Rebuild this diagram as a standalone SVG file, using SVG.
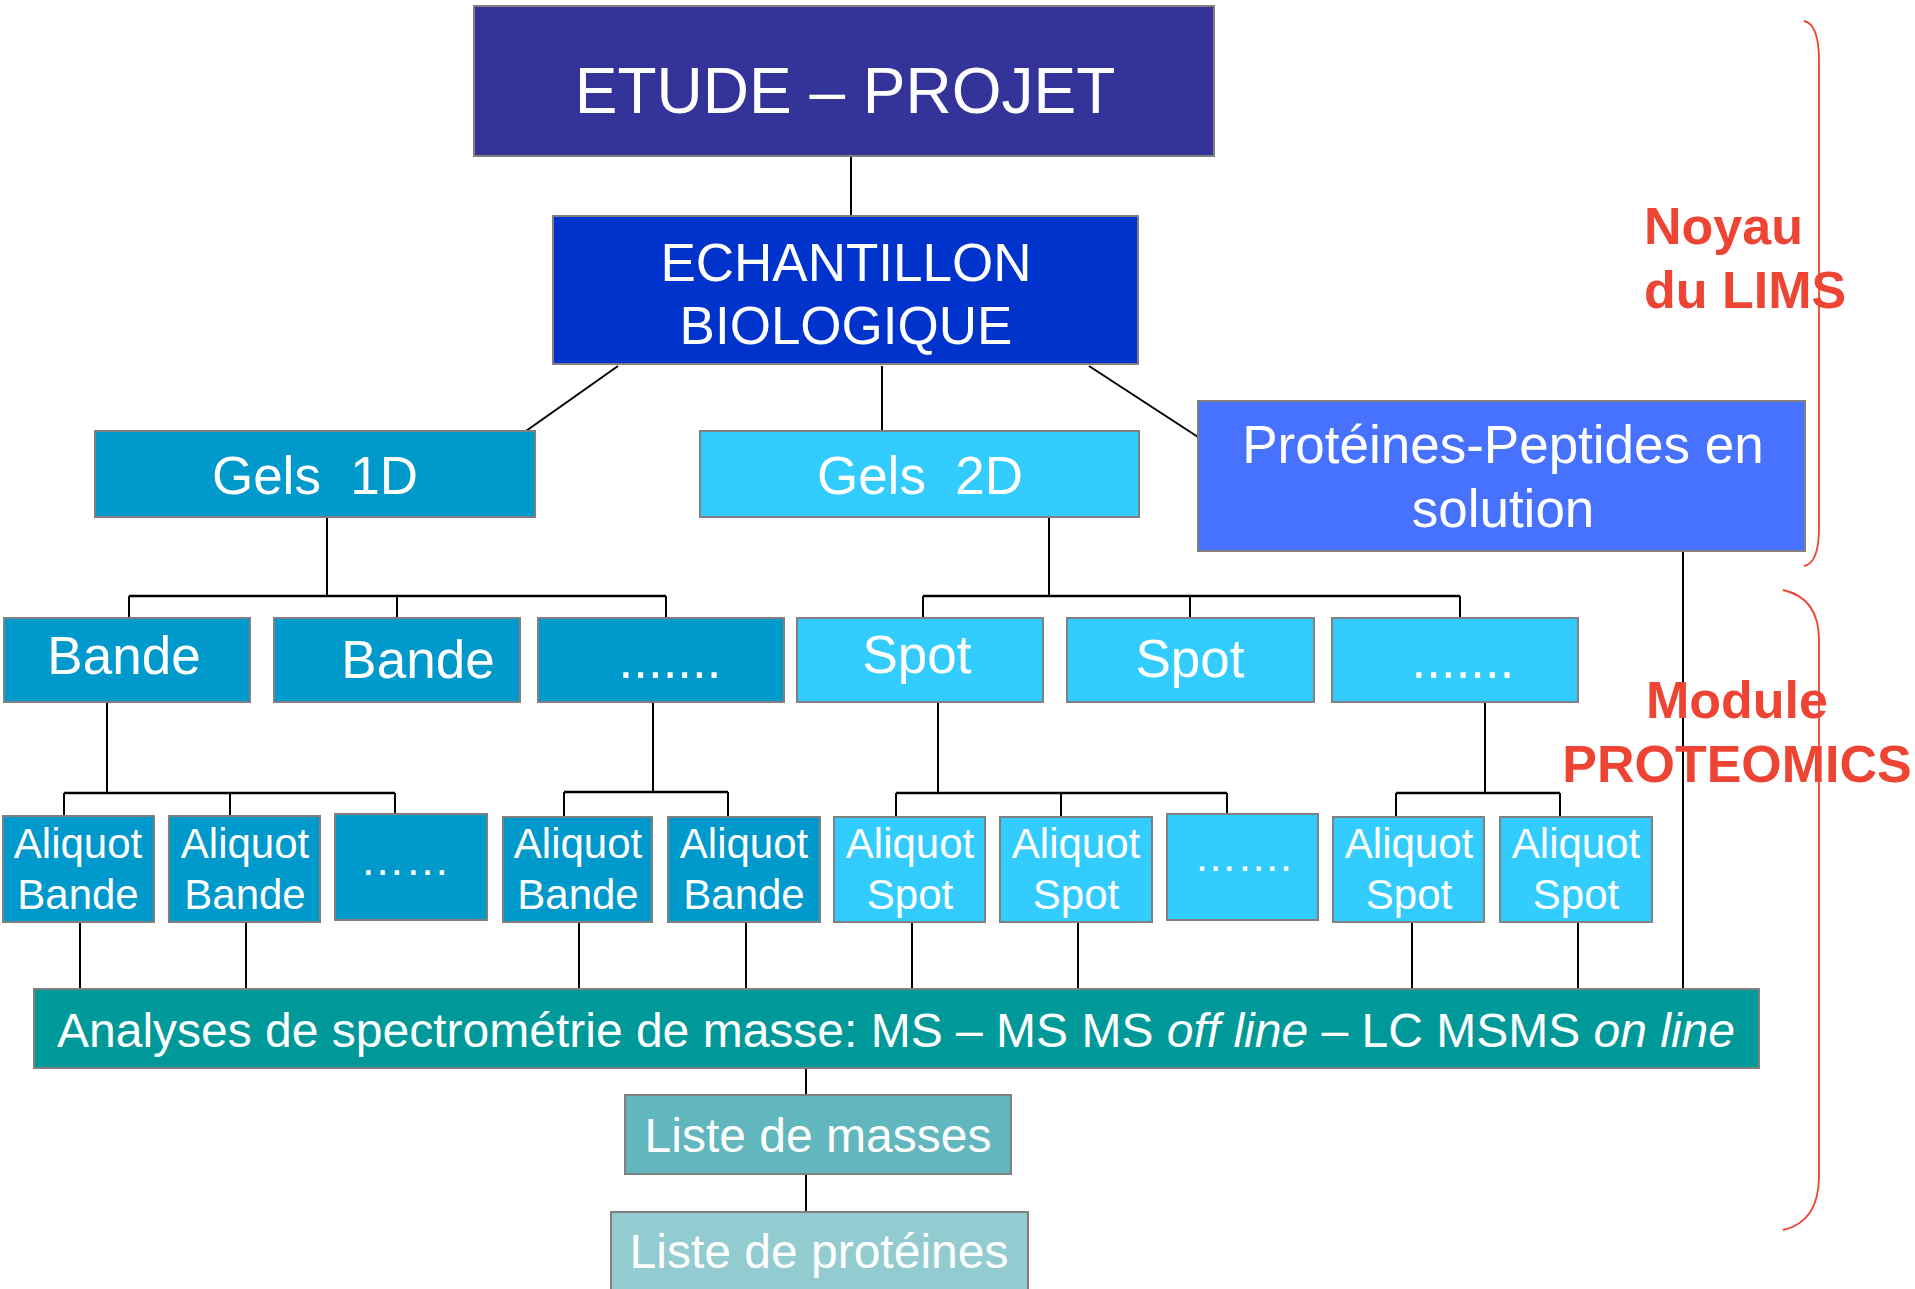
<svg xmlns="http://www.w3.org/2000/svg" width="1915" height="1289" viewBox="0 0 1915 1289">
<style>
.b{stroke:#808080;stroke-width:2}
.t{font-family:"Liberation Sans",Arial,sans-serif;fill:#fff;text-anchor:middle}
.c{stroke:#000;stroke-width:2;fill:none}
.bus{stroke:#000;stroke-width:2.5;fill:none}
.r{font-family:"Liberation Sans",Arial,sans-serif;font-weight:bold;fill:#EE4433;font-size:52px}
.g1{fill:#0099CC}
.g2{fill:#33CCFF}
</style>
<rect width="1915" height="1289" fill="#fff"/>
<g id="connectors">
<path class="c" d="M851 156V216"/>
<path class="c" d="M618 366L526 431"/>
<path class="c" d="M882 366V431"/>
<path class="c" d="M1089 366L1198 437"/>
<path class="c" d="M327 518V596M129 596V618M397 596V618M666 596V618"/>
<path class="bus" d="M129 596H666"/>
<path class="c" d="M1049 518V596M923 596V618M1190 596V618M1460 596V618"/>
<path class="bus" d="M923 596H1460"/>
<path class="c" d="M107 702V793M64 793V816M230 793V816M395 793V814"/>
<path class="bus" d="M64 793H395"/>
<path class="c" d="M653 702V792M564 792V817M728 792V817"/>
<path class="bus" d="M564 792H728"/>
<path class="c" d="M938 702V793M896 793V817M1061 793V817M1227 793V814"/>
<path class="bus" d="M896 793H1227"/>
<path class="c" d="M1485 702V793M1396 793V817M1560 793V817"/>
<path class="bus" d="M1396 793H1560"/>
<path class="c" d="M80 922V989M246 922V989M579 922V989M746 922V989M912 922V989M1078 922V989M1412 922V989M1578 922V989"/>
<path class="c" d="M1683 551V989"/>
<path class="c" d="M806 1068V1095M806 1174V1212"/>
</g>
<g id="etude"><rect class="b" x="474" y="6" width="740" height="150" fill="#333399"/><text class="t" x="845" y="113" font-size="64">ETUDE – PROJET</text></g>
<g id="echantillon"><rect class="b" x="553" y="216" width="585" height="148" fill="#0033CC"/><text class="t" x="846" y="281" font-size="53">ECHANTILLON</text><text class="t" x="846" y="344" font-size="53">BIOLOGIQUE</text></g>
<g id="gels1d"><rect class="b g1" x="95" y="431" width="440" height="86"/><text class="t" x="315" y="494" font-size="53" xml:space="preserve">Gels  1D</text></g>
<g id="gels2d"><rect class="b g2" x="700" y="431" width="439" height="86"/><text class="t" x="920" y="494" font-size="53" xml:space="preserve">Gels  2D</text></g>
<g id="proteines"><rect class="b" x="1198" y="401" width="607" height="150" fill="#4772FF"/><text class="t" x="1503" y="463" font-size="53">Protéines-Peptides en</text><text class="t" x="1503" y="527" font-size="53">solution</text></g>
<g id="bande1"><rect class="b g1" x="4" y="618" width="246" height="84"/><text class="t" x="124" y="674" font-size="53">Bande</text></g>
<g id="bande2"><rect class="b g1" x="274" y="618" width="246" height="84"/><text class="t" x="418" y="678" font-size="53">Bande</text></g>
<g id="bande3"><rect class="b g1" x="538" y="618" width="246" height="84"/><text class="t" x="670" y="678" font-size="53">.......</text></g>
<g id="spot1"><rect class="b g2" x="797" y="618" width="246" height="84"/><text class="t" x="917" y="673" font-size="53">Spot</text></g>
<g id="spot2"><rect class="b g2" x="1067" y="618" width="247" height="84"/><text class="t" x="1190" y="677" font-size="53">Spot</text></g>
<g id="spot3"><rect class="b g2" x="1332" y="618" width="246" height="84"/><text class="t" x="1463" y="678" font-size="53">.......</text></g>
<g id="ab1"><rect class="b g1" x="3" y="816" width="151" height="106"/><text class="t" x="78" y="858" font-size="42">Aliquot</text><text class="t" x="78" y="909" font-size="42">Bande</text></g>
<g id="ab2"><rect class="b g1" x="169" y="816" width="151" height="106"/><text class="t" x="245" y="858" font-size="42">Aliquot</text><text class="t" x="245" y="909" font-size="42">Bande</text></g>
<g id="abdots"><rect class="b g1" x="335" y="814" width="152" height="106"/><text class="t" x="405" y="875" font-size="45">……</text></g>
<g id="ab3"><rect class="b g1" x="503" y="817" width="149" height="105"/><text class="t" x="578" y="858" font-size="42">Aliquot</text><text class="t" x="578" y="909" font-size="42">Bande</text></g>
<g id="ab4"><rect class="b g1" x="668" y="817" width="152" height="105"/><text class="t" x="744" y="858" font-size="42">Aliquot</text><text class="t" x="744" y="909" font-size="42">Bande</text></g>
<g id="as1"><rect class="b g2" x="834" y="817" width="151" height="105"/><text class="t" x="910" y="858" font-size="42">Aliquot</text><text class="t" x="910" y="909" font-size="42">Spot</text></g>
<g id="as2"><rect class="b g2" x="1000" y="817" width="152" height="105"/><text class="t" x="1076" y="858" font-size="42">Aliquot</text><text class="t" x="1076" y="909" font-size="42">Spot</text></g>
<g id="asdots"><rect class="b g2" x="1167" y="814" width="151" height="106"/><text class="t" x="1243" y="871" font-size="43">…….</text></g>
<g id="as3"><rect class="b g2" x="1333" y="817" width="151" height="105"/><text class="t" x="1409" y="858" font-size="42">Aliquot</text><text class="t" x="1409" y="909" font-size="42">Spot</text></g>
<g id="as4"><rect class="b g2" x="1500" y="817" width="152" height="105"/><text class="t" x="1576" y="858" font-size="42">Aliquot</text><text class="t" x="1576" y="909" font-size="42">Spot</text></g>
<g id="ms"><rect class="b" x="34" y="989" width="1725" height="79" fill="#009999"/><text class="t" x="896" y="1047" font-size="48">Analyses de spectrométrie de masse: MS – MS MS <tspan font-style="italic">off line</tspan> – LC MSMS <tspan font-style="italic">on line</tspan></text></g>
<g id="masses"><rect class="b" x="625" y="1095" width="386" height="79" fill="#61B7BD"/><text class="t" x="818" y="1152" font-size="48">Liste de masses</text></g>
<g id="proteines-liste"><rect class="b" x="611" y="1212" width="417" height="90" fill="#92CCD1"/><text class="t" x="819" y="1268" font-size="48">Liste de protéines</text></g>
<g id="noyau"><path d="M1804 21Q1819 24 1819 61V528Q1819 563 1804 566" fill="none" stroke="#EE4433" stroke-width="1.8"/><text class="r" x="1644" y="244">Noyau</text><text class="r" x="1644" y="308">du LIMS</text></g>
<g id="module"><path d="M1783 590Q1819 598 1819 640V1176Q1819 1222 1783 1230" fill="none" stroke="#EE4433" stroke-width="1.8"/><text class="r" x="1737" y="718" text-anchor="middle">Module</text><text class="r" x="1737" y="782" text-anchor="middle">PROTEOMICS</text></g>
</svg>
